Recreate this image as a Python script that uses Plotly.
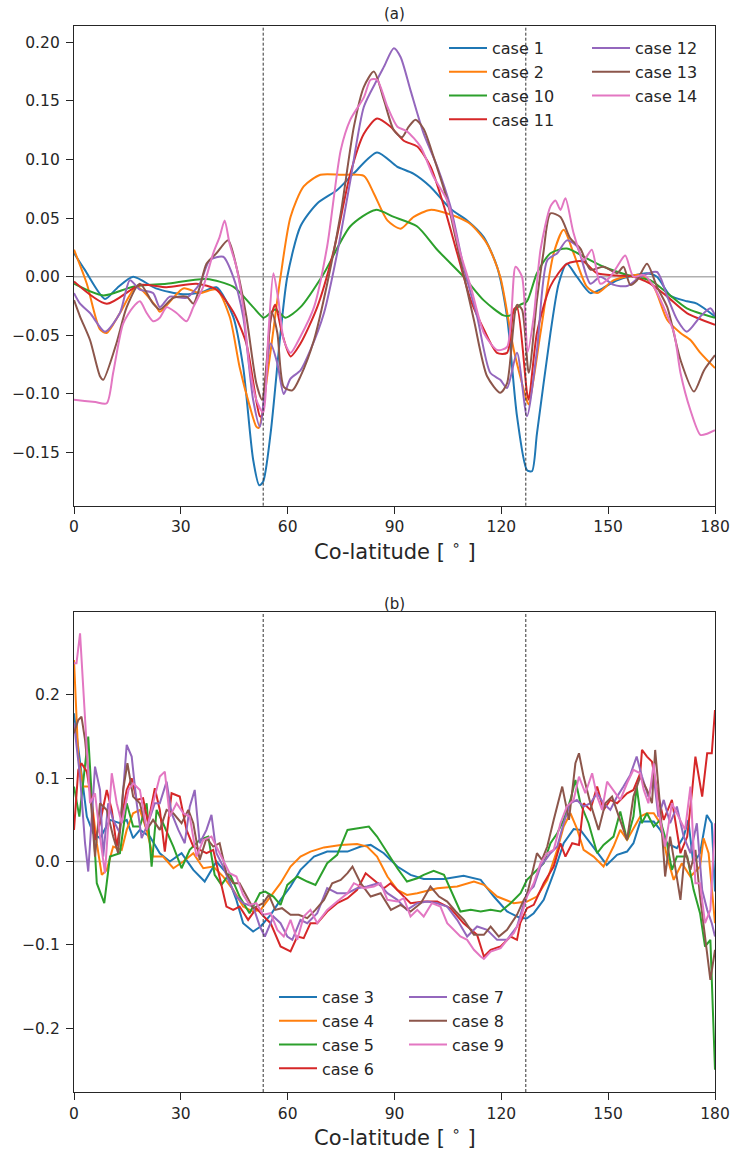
import plotly.graph_objects as go

FONT = "DejaVu Sans"
INK = "#262626"
COLORS = ["#1f77b4", "#ff7f0e", "#2ca02c", "#d62728", "#9467bd", "#8c564b", "#e377c2"]

# ---------------- panel (a) ----------------
a_names = ["case 1", "case 2", "case 10", "case 11", "case 12", "case 13", "case 14"]

a1_x = [0, 3, 8.7, 12, 16.6, 23, 30.6, 36, 40, 44.7, 47.5, 50.3, 52, 53.1, 55.2, 58, 59.9, 63.6, 68.3, 73.9, 78.5, 85.1, 90.7, 95.3, 100, 105.7, 110.4, 115, 118.8, 121.6, 124.4, 127.2, 128.6, 130, 133.8, 136.1, 138.4, 141.2, 145, 147.8, 152.5, 160.9, 163.7, 167.4, 172.1, 174.9, 180]
a1_y = [0.020, 0.006, -0.019, -0.010, 0.000, -0.010, -0.015, -0.013, -0.009, -0.034, -0.077, -0.156, -0.178, -0.175, -0.134, -0.048, 0.000, 0.043, 0.0625, 0.074, 0.088, 0.106, 0.094, 0.088, 0.077, 0.058, 0.048, 0.034, 0.0085, -0.034, -0.119, -0.165, -0.166, -0.134, -0.048, -0.006, 0.011, 0.000, -0.014, -0.011, -0.003, 0.003, 0.000, -0.016, -0.021, -0.023, -0.034]

a2_x = [0, 3.6, 7.3, 9.2, 12.9, 17.6, 23.2, 24.1, 30.7, 35.3, 40, 43.7, 46.5, 49.3, 51.2, 51.9, 54.6, 58, 60.8, 64.5, 69.2, 75, 81.4, 84.2, 88, 91.7, 95.4, 100, 105.7, 111.3, 116, 119.7, 123.5, 127.2, 127.7, 131, 134.7, 137.5, 140.3, 144, 146.9, 151.6, 159.1, 162.8, 166.6, 170.3, 173.1, 175.9, 180]
a2_y = [0.023, -0.006, -0.045, -0.048, -0.031, -0.0085, -0.026, -0.030, -0.010, -0.014, -0.011, -0.034, -0.077, -0.110, -0.128, -0.129, -0.077, 0.000, 0.051, 0.077, 0.087, 0.087, 0.086, 0.071, 0.048, 0.041, 0.051, 0.057, 0.053, 0.045, 0.028, 0.000, -0.0625, -0.106, -0.109, -0.048, 0.020, 0.040, 0.020, -0.0085, -0.014, -0.003, 0.0015, -0.0085, -0.037, -0.048, -0.054, -0.065, -0.078]

a10_x = [0, 8.2, 16.6, 26, 37.2, 44.7, 50.3, 53.3, 56.5, 59.4, 63.6, 70.2, 77.6, 84.7, 89.8, 96.3, 102, 109.4, 115, 120.6, 122.5, 125.3, 127.2, 130, 133.8, 138.4, 144, 148.7, 157.1, 161.8, 166.6, 172.1, 180]
a10_y = [-0.006, -0.016, -0.0085, -0.006, -0.002, -0.0085, -0.026, -0.035, -0.028, -0.035, -0.026, 0.003, 0.043, 0.057, 0.051, 0.043, 0.023, 0.000, -0.020, -0.033, -0.033, -0.024, -0.021, 0.003, 0.020, 0.024, 0.0156, 0.0085, 0.000, -0.003, -0.014, -0.027, -0.035]

a11_x = [0, 9.2, 18.5, 26, 34.4, 40, 44.7, 48.4, 52.2, 52.8, 55.2, 56.5, 58.4, 60.8, 63.6, 68.3, 73, 77.6, 81.4, 85.1, 88.9, 92.6, 96.4, 100.1, 103.9, 107.6, 111.4, 115.1, 118.8, 121.6, 123.5, 124.4, 127.2, 127.7, 130, 133.8, 138.4, 143, 146.8, 152.4, 157.1, 161.8, 166.6, 172.1, 180]
a11_y = [-0.004, -0.023, -0.007, -0.009, -0.006, -0.011, -0.030, -0.057, -0.119, -0.119, -0.037, -0.024, -0.048, -0.068, -0.057, -0.026, 0.023, 0.088, 0.122, 0.135, 0.128, 0.116, 0.111, 0.094, 0.060, 0.020, -0.020, -0.045, -0.065, -0.065, -0.028, -0.026, -0.099, -0.105, -0.048, -0.008, 0.011, 0.013, 0.003, 0.001, 0.000, -0.006, -0.017, -0.031, -0.041]

a12_x = [0, 1.7, 4.5, 8.7, 12.9, 15.7, 18.5, 22.2, 24.1, 26.9, 31.6, 35.3, 38.1, 41.9, 44.7, 47.5, 50.3, 52.2, 55.2, 57.1, 58.9, 60.8, 63.6, 66.4, 70.2, 73.9, 77.6, 81.4, 85.1, 87, 89.8, 91.7, 94.5, 98.2, 102, 105.7, 109.4, 113.2, 116.9, 119.7, 121.6, 124.4, 127.2, 130, 132.9, 135.7, 138.4, 141.2, 145, 147.8, 151.6, 155.3, 159.1, 163.7, 166.6, 169.4, 172.1, 175.9, 178.7, 180]
a12_y = [-0.014, -0.023, -0.031, -0.047, -0.031, -0.003, -0.011, -0.014, -0.026, -0.017, -0.018, -0.006, 0.014, 0.017, 0.000, -0.034, -0.105, -0.128, -0.057, -0.074, -0.100, -0.087, -0.080, -0.0625, -0.031, 0.020, 0.082, 0.145, 0.168, 0.179, 0.195, 0.1875, 0.159, 0.122, 0.094, 0.060, 0.0085, -0.034, -0.082, -0.088, -0.095, -0.065, -0.119, -0.063, 0.014, 0.020, 0.031, 0.026, -0.006, 0.000, -0.007, -0.008, 0.000, 0.004, -0.017, -0.037, -0.047, -0.034, -0.027, -0.033]

a13_x = [0, 1.7, 4.5, 7.3, 8.2, 11.9, 14.8, 18.5, 22.2, 24.1, 27.9, 31.6, 33.5, 35.3, 37.2, 40, 43.3, 45.6, 48.4, 51.2, 52.8, 55.6, 57.1, 58.9, 61.3, 63.6, 67.4, 71.1, 74.9, 78.6, 81.4, 84.2, 87, 89.8, 92.1, 94, 95.9, 98.2, 101, 104.8, 108.5, 112.3, 116, 119.7, 121.6, 124.4, 125.8, 127.7, 130, 131.8, 133.8, 136.6, 139.3, 142.2, 145, 148.7, 152.5, 154.3, 156.2, 158.1, 160.9, 163.7, 166.6, 170.3, 174.1, 176.9, 180]
a13_y = [-0.020, -0.034, -0.054, -0.085, -0.088, -0.057, -0.026, -0.006, -0.023, -0.028, -0.018, -0.017, -0.023, -0.009, 0.011, 0.020, 0.031, 0.0085, -0.034, -0.091, -0.105, -0.031, -0.048, -0.094, -0.097, -0.085, -0.054, -0.006, 0.054, 0.128, 0.162, 0.175, 0.151, 0.125, 0.119, 0.128, 0.134, 0.126, 0.102, 0.065, 0.014, -0.037, -0.085, -0.099, -0.091, -0.024, -0.028, -0.082, -0.020, 0.020, 0.054, 0.051, 0.033, 0.024, 0.006, 0.0085, 0.003, 0.0085, -0.007, -0.003, 0.011, -0.0085, -0.026, -0.071, -0.098, -0.080, -0.067]

a14_x = [0, 3, 6, 9.2, 11, 13.8, 16.6, 18.5, 20.4, 22.2, 24.1, 26, 28.8, 31.6, 33.5, 36.3, 39.1, 40.9, 42.3, 43.7, 45.6, 47.5, 49.3, 51.2, 53.1, 54.6, 56, 57.4, 58.9, 60.8, 63.6, 67.4, 71.1, 74.9, 77.6, 81.4, 83.3, 85.1, 88, 90.8, 93.5, 97.3, 101, 104.8, 108.5, 111.4, 115.1, 118.8, 121.6, 124, 125.8, 127.4, 129.1, 131, 133.8, 135.2, 136.6, 138, 140.3, 143.1, 145.4, 147.8, 150.6, 152.5, 154.8, 157.1, 160, 162.8, 165.6, 168.5, 170.3, 173.1, 175.9, 177.8, 180]
a14_y = [-0.105, -0.106, -0.107, -0.108, -0.082, -0.040, -0.026, -0.021, -0.031, -0.038, -0.035, -0.026, -0.031, -0.038, -0.026, -0.0085, 0.020, 0.034, 0.048, 0.028, 0.0085, -0.026, -0.077, -0.105, -0.116, -0.048, 0.003, -0.020, -0.054, -0.065, -0.051, -0.026, 0.026, 0.108, 0.134, 0.153, 0.168, 0.168, 0.145, 0.128, 0.124, 0.111, 0.085, 0.065, 0.020, -0.0085, -0.048, -0.0625, -0.060, 0.0085, 0.000, -0.064, -0.034, 0.023, 0.060, 0.065, 0.057, 0.067, 0.037, 0.014, 0.023, -0.006, 0.000, 0.0085, 0.018, 0.000, 0.0015, -0.0085, -0.026, -0.048, -0.082, -0.114, -0.135, -0.134, -0.131]

# ---------------- panel (b) ----------------
b_names = ["case 3", "case 4", "case 5", "case 6", "case 7", "case 8", "case 9"]

b3_x = [0, 1.7, 3.6, 5.4, 7.3, 10.1, 12.9, 14.8, 16.6, 18.5, 21.3, 24.1, 26.9, 30.2, 33.5, 36.7, 40, 42.8, 45.6, 47.5, 50.3, 52.4, 55.2, 58, 60.8, 63.6, 67.4, 71.1, 76.8, 80.5, 83.3, 87, 90.8, 94.5, 98.2, 103.9, 109.4, 114.2, 117.9, 121.6, 125.4, 127.2, 129.1, 131.9, 134.7, 137.5, 140.3, 142.2, 145, 147.8, 149.6, 152.5, 155.3, 157.1, 159, 160.9, 162.8, 164.6, 166.5, 169.3, 171.2, 172.5, 173.9, 175.8, 177.7, 179.1, 180]
b3_y = [0.178, 0.118, 0.054, 0.034, 0.028, 0.050, 0.046, 0.050, 0.028, 0.038, 0.030, 0.010, 0.000, 0.010, -0.010, -0.024, 0.000, -0.014, -0.046, -0.074, -0.084, -0.078, -0.064, -0.046, -0.030, -0.010, 0.006, 0.012, 0.012, 0.018, 0.020, 0.010, -0.006, -0.016, -0.021, -0.021, -0.017, -0.022, -0.042, -0.060, -0.068, -0.068, -0.062, -0.046, -0.014, 0.022, 0.039, 0.038, 0.022, 0.006, -0.004, 0.008, 0.012, 0.022, 0.048, 0.048, 0.048, 0.038, 0.022, 0.016, 0.030, 0.050, -0.002, 0.010, 0.056, 0.046, -0.036]

b4_x = [0, 1.2, 2.6, 4.5, 6.4, 7.8, 9.2, 11, 13.4, 14.8, 16.6, 18.5, 20.4, 22.2, 25, 27.9, 30.7, 33.5, 36.3, 39.1, 41.9, 44.7, 47.5, 50.3, 52.4, 55.2, 58, 60.8, 63.6, 66.4, 70.2, 74.9, 79.5, 82.3, 85.1, 88, 90.8, 93.5, 96.4, 102, 107.6, 112.3, 115.1, 118.8, 123.5, 127.2, 130, 132.9, 135.7, 137.5, 139.4, 141.2, 143.1, 145.9, 148.7, 151.5, 153.4, 155.3, 157.1, 159, 160.9, 162.8, 164.6, 166.5, 168.4, 170.7, 173.1, 175.8, 176.8, 178.2, 180]
b4_y = [0.242, 0.126, 0.090, 0.090, 0.022, -0.016, -0.010, 0.018, 0.014, 0.038, 0.058, 0.062, 0.038, 0.006, 0.006, -0.008, 0.000, 0.010, -0.008, -0.006, -0.018, -0.034, -0.054, -0.060, -0.058, -0.042, -0.026, -0.006, 0.006, 0.012, 0.017, 0.020, 0.021, 0.018, 0.006, -0.018, -0.034, -0.040, -0.038, -0.032, -0.030, -0.024, -0.028, -0.042, -0.050, -0.048, -0.042, -0.022, 0.014, 0.042, 0.058, 0.040, 0.014, 0.006, -0.006, 0.018, 0.038, 0.026, 0.040, 0.054, 0.058, 0.058, 0.046, 0.006, -0.022, -0.002, -0.018, -0.006, 0.028, 0.010, -0.074]

b5_x = [0, 1.5, 4, 5.4, 6.4, 8.5, 10.1, 12.9, 14.8, 16.6, 18.5, 20.4, 21.8, 23.2, 25, 27.9, 30.2, 32.5, 35.3, 37.7, 39.5, 41.4, 43.7, 46.5, 49.3, 52.2, 53.7, 56, 58, 59.9, 62.7, 65.5, 67.8, 71.1, 73.9, 76.8, 79.5, 82.8, 85.1, 88, 90.8, 93.5, 96.4, 98.2, 101, 103.9, 105.7, 108.5, 111.4, 114.2, 117, 119.8, 122.6, 125.4, 127.2, 129.1, 131.9, 133.8, 135.7, 137.5, 139.4, 140.8, 142.2, 144.5, 146.9, 148.7, 151.5, 153.4, 155.3, 157.1, 158, 159.4, 160.9, 162.8, 164.6, 166.5, 167.9, 169.3, 172.2, 174, 175.8, 177.2, 178.7, 180]
b5_y = [0.090, 0.054, 0.150, 0.054, -0.026, -0.050, 0.006, 0.010, 0.070, 0.042, 0.042, 0.070, -0.006, 0.062, 0.046, 0.018, -0.008, 0.014, 0.026, 0.030, -0.016, -0.028, -0.014, -0.042, -0.062, -0.038, -0.036, -0.042, -0.052, -0.028, -0.018, -0.024, -0.028, -0.002, 0.008, 0.038, 0.040, 0.042, 0.030, 0.010, -0.008, -0.024, -0.020, -0.016, -0.011, -0.016, -0.034, -0.060, -0.058, -0.060, -0.058, -0.060, -0.050, -0.038, -0.022, -0.014, -0.002, 0.022, 0.034, 0.050, 0.074, 0.098, 0.070, 0.046, 0.010, 0.020, 0.030, 0.060, 0.026, 0.054, 0.090, 0.046, 0.058, 0.042, 0.050, 0.022, -0.010, 0.006, 0.006, -0.034, -0.062, -0.102, -0.094, -0.250]

b6_x = [0, 1.2, 2.1, 3.6, 5, 5.9, 7.3, 9.2, 10.6, 12, 13.4, 14.8, 16.2, 17.6, 19.4, 20.8, 22.7, 24.1, 25.5, 27.4, 29.7, 31.6, 33.5, 35.3, 37.2, 39.1, 40.9, 42.8, 44.7, 46.5, 48.9, 51.2, 53.3, 55.2, 58, 60.8, 62.7, 64.5, 66.4, 68.3, 71.1, 73.9, 76.8, 79.5, 81.9, 84.2, 87, 88.9, 91.7, 94.5, 98.2, 102, 105.7, 109.4, 113.2, 115.1, 117, 119.8, 122.6, 124.4, 125.3, 127.2, 129.1, 131.9, 134.7, 136.6, 138, 139.9, 141.8, 143.1, 145, 146.9, 148.7, 150.6, 152.5, 155.3, 157.1, 159, 159.5, 160.9, 162.3, 163.7, 165.6, 167.9, 170.3, 172.2, 173.6, 174.5, 176.4, 177.8, 179.1, 180]
b6_y = [0.038, 0.110, 0.118, 0.108, 0.070, 0.026, 0.046, 0.086, 0.062, 0.018, 0.054, 0.086, 0.100, 0.074, 0.076, 0.046, 0.088, 0.062, 0.012, 0.082, 0.078, 0.038, 0.018, 0.014, 0.010, 0.014, -0.018, -0.054, -0.058, -0.054, -0.070, -0.056, -0.066, -0.074, -0.102, -0.108, -0.090, -0.092, -0.074, -0.074, -0.060, -0.050, -0.044, -0.034, -0.014, -0.022, -0.032, -0.026, -0.038, -0.050, -0.048, -0.048, -0.056, -0.074, -0.088, -0.114, -0.106, -0.102, -0.090, -0.094, -0.074, -0.056, -0.052, -0.026, -0.006, 0.022, 0.006, 0.022, 0.020, 0.070, 0.062, 0.090, 0.062, 0.074, 0.070, 0.082, 0.086, 0.106, 0.134, 0.126, 0.120, 0.086, 0.050, 0.074, 0.010, 0.030, 0.086, 0.126, 0.078, 0.130, 0.130, 0.182]

b7_x = [0, 1.7, 3.1, 4, 5, 5.9, 7.3, 8.2, 9.6, 11, 12.9, 14.8, 16.2, 17.6, 19, 20.8, 22.7, 24.1, 26, 27.4, 29.3, 31.1, 32.5, 33.9, 35.3, 37.2, 38.6, 40, 41.9, 43.7, 45.6, 47.5, 50.3, 52.2, 53.6, 56, 58, 59.9, 61.3, 63.6, 65.5, 68.3, 71.1, 73.9, 76.8, 79.5, 82.3, 85.5, 88, 90.8, 93.5, 96.4, 99.2, 102, 104.8, 107.6, 110.4, 113.2, 116, 118.8, 121.6, 124.4, 127.2, 129.1, 131, 133.8, 135.7, 137.5, 139.4, 141.2, 143.1, 145, 146.9, 148.7, 150.6, 152.5, 154.3, 156.2, 158, 159.5, 161.3, 162.8, 164.1, 165.6, 167.4, 169.3, 171.2, 173.1, 174.9, 176.4, 177.8, 179.1, 180]
b7_y = [0.166, 0.102, 0.022, -0.012, 0.054, 0.114, 0.086, 0.006, 0.070, 0.050, 0.034, 0.140, 0.126, 0.070, 0.028, 0.046, 0.070, 0.070, 0.096, 0.058, 0.038, 0.022, 0.066, 0.086, 0.022, 0.038, 0.056, 0.010, -0.006, -0.026, -0.042, -0.050, -0.054, -0.078, -0.090, -0.066, -0.074, -0.090, -0.094, -0.070, -0.074, -0.062, -0.032, -0.038, -0.038, -0.032, -0.030, -0.026, -0.038, -0.046, -0.058, -0.050, -0.048, -0.050, -0.054, -0.070, -0.090, -0.078, -0.082, -0.094, -0.094, -0.078, -0.038, -0.030, -0.006, 0.010, 0.018, 0.046, 0.070, 0.074, 0.066, 0.070, 0.082, 0.070, 0.062, 0.078, 0.090, 0.104, 0.126, 0.102, 0.078, 0.102, 0.054, 0.074, 0.046, 0.066, 0.030, 0.010, 0.046, -0.034, -0.058, -0.074, -0.090]

b8_x = [0, 1.2, 2.1, 3.1, 4.5, 5.9, 7.3, 9.2, 11, 12.4, 13.8, 15, 16.6, 18.5, 20.4, 22.2, 24.1, 26, 27.9, 30.2, 32.1, 33.5, 35.3, 37.2, 39.1, 40.9, 42.8, 44.7, 46.5, 48.4, 50.3, 53.1, 54.7, 56.5, 58.4, 60.8, 63.1, 65.5, 67.8, 70.2, 72.5, 74.9, 76.8, 78.2, 80.5, 83.3, 86.1, 89, 91.7, 94.5, 97.4, 100.1, 102.5, 104.8, 107.2, 109.5, 112.3, 115.1, 117, 119.3, 121.6, 124.4, 126.3, 127.2, 128.2, 130, 131.4, 132.9, 134.7, 137.1, 139, 140.8, 141.8, 143.1, 145, 147.3, 149.2, 151.1, 153, 155.3, 157.1, 159, 160.9, 162.3, 163.2, 164.6, 166, 167.4, 168.8, 170.3, 171.6, 173.1, 174.5, 175.8, 177.2, 178.7, 180]
b8_y = [0.154, 0.170, 0.174, 0.146, 0.086, 0.006, 0.070, 0.062, 0.030, 0.010, 0.086, 0.118, 0.078, 0.070, 0.038, 0.050, 0.038, 0.062, 0.058, 0.046, 0.062, 0.046, 0.002, 0.028, 0.018, 0.022, -0.014, -0.026, -0.026, -0.042, -0.056, -0.050, -0.040, -0.058, -0.056, -0.064, -0.064, -0.068, -0.058, -0.046, -0.026, -0.022, -0.014, -0.006, -0.026, -0.042, -0.038, -0.058, -0.052, -0.060, -0.050, -0.030, -0.042, -0.048, -0.060, -0.070, -0.088, -0.088, -0.078, -0.090, -0.082, -0.064, -0.046, -0.040, -0.022, 0.010, 0.002, 0.018, 0.050, 0.090, 0.050, 0.118, 0.130, 0.102, 0.070, 0.038, 0.070, 0.078, 0.054, 0.026, 0.078, 0.102, 0.086, 0.070, 0.134, 0.066, -0.018, 0.030, -0.006, -0.046, 0.014, -0.010, 0.014, -0.042, -0.090, -0.142, -0.106]

b9_x = [0, 0.7, 1.7, 2.6, 3.6, 4.5, 5.9, 7.3, 8.7, 10.6, 12, 13.4, 15.3, 16.6, 18.5, 20.4, 22.2, 24.1, 25.5, 26.9, 28.8, 30.7, 32.5, 34.4, 36.3, 38.6, 40.9, 43.7, 45.6, 47.5, 49.3, 51.2, 53.1, 55.2, 57.1, 58.9, 60.8, 62.7, 64.5, 66.4, 68.3, 71.1, 73.9, 76.8, 78.6, 81.4, 84.2, 86.1, 88, 90.8, 92.6, 94.5, 96.4, 98.2, 100.5, 102.9, 104.8, 106.7, 108.5, 110.4, 112.3, 114.2, 115.1, 117, 119.8, 121.6, 123.5, 125.3, 127.2, 129.1, 131, 132.9, 134.7, 136.6, 138.4, 140.3, 141.8, 143.6, 145.5, 146.9, 148.3, 149.7, 151.5, 153.4, 155.3, 157.1, 159, 160, 161.3, 162.8, 164.1, 166, 167.9, 169.8, 171.6, 173.1, 174.5, 175.8, 177.2, 178.7, 180]
b9_y = [0.238, 0.238, 0.274, 0.206, 0.134, 0.070, 0.082, 0.030, -0.014, 0.106, 0.070, 0.046, 0.086, 0.094, 0.086, 0.038, 0.070, 0.102, 0.108, 0.054, 0.070, 0.058, 0.054, 0.006, 0.026, 0.030, 0.010, -0.014, -0.018, -0.040, -0.052, -0.050, -0.064, -0.062, -0.082, -0.090, -0.070, -0.094, -0.066, -0.058, -0.074, -0.058, -0.048, -0.038, -0.026, -0.032, -0.030, -0.026, -0.046, -0.048, -0.044, -0.066, -0.058, -0.066, -0.050, -0.054, -0.074, -0.082, -0.090, -0.094, -0.106, -0.114, -0.117, -0.108, -0.104, -0.094, -0.086, -0.070, -0.042, -0.026, -0.002, 0.010, 0.014, 0.046, 0.066, 0.074, 0.102, 0.082, 0.106, 0.078, 0.062, 0.096, 0.086, 0.074, 0.094, 0.110, 0.106, 0.086, 0.070, 0.118, 0.062, 0.018, 0.070, 0.054, 0.038, 0.090, -0.026, -0.026, -0.074, -0.058, 0.046]

a_x_ticks = [0, 30, 60, 90, 120, 150, 180]
a_y_ticks = [-0.15, -0.10, -0.05, 0.00, 0.05, 0.10, 0.15, 0.20]
b_y_ticks = [-0.2, -0.1, 0.0, 0.1, 0.2]
a_y_range = [-0.1954, 0.2139]
b_y_range = [-0.2767, 0.300]
boundaries = [53.13, 126.87]

a_series = [(a1_x, a1_y), (a2_x, a2_y), (a10_x, a10_y), (a11_x, a11_y),
            (a12_x, a12_y), (a13_x, a13_y), (a14_x, a14_y)]
b_series = [(b3_x, b3_y), (b4_x, b4_y), (b5_x, b5_y), (b6_x, b6_y),
            (b7_x, b7_y), (b8_x, b8_y), (b9_x, b9_y)]

fig = go.Figure()

for i, (name, (xs, ys)) in enumerate(zip(a_names, a_series)):
    fig.add_trace(go.Scatter(
        x=xs, y=ys, mode="lines", name=name,
        line=dict(color=COLORS[i], width=2, shape="spline", smoothing=0.7),
        xaxis="x", yaxis="y",
        legend="legend" if i < 4 else "legend2",
    ))

for i, (name, (xs, ys)) in enumerate(zip(b_names, b_series)):
    fig.add_trace(go.Scatter(
        x=xs, y=ys, mode="lines", name=name,
        line=dict(color=COLORS[i], width=2),
        xaxis="x2", yaxis="y2",
        legend="legend3" if i < 4 else "legend4",
    ))

# page = figure (body margin removed below); plot area x 74..715, y 26..1092
W, H = 732, 1151
L, R, T, B = 74, W - 715, 26, H - 1092
PW, PH = W - L - R, H - T - B


def px(xp):
    return (xp - L) / PW


def py(yp):
    return (T + PH - yp) / PH


axis_common = dict(
    showline=True, mirror=True, linecolor=INK, linewidth=1.25,
    ticks="outside", ticklen=7, tickwidth=1.25, tickcolor=INK,
    showgrid=False, zeroline=False,
    tickfont=dict(family=FONT, size=15.5, color=INK),
)

top_dom = [py(505.7), 1.0]
bot_dom = [0.0, py(611.7)]

fig.update_layout(
    width=W, height=H,
    margin=dict(l=L, r=R, t=T, b=B, autoexpand=False),
    paper_bgcolor="white", plot_bgcolor="white",
    font=dict(family=FONT, color=INK),
    xaxis=dict(domain=[0, 1], range=[0, 180], tickvals=a_x_ticks, anchor="y", **axis_common),
    yaxis=dict(domain=top_dom, range=a_y_range, tickvals=a_y_ticks, tickformat=".2f", anchor="x",
               ticklabelstandoff=3, **axis_common),
    xaxis2=dict(domain=[0, 1], range=[0, 180], tickvals=a_x_ticks, anchor="y2", **axis_common),
    yaxis2=dict(domain=bot_dom, range=b_y_range, tickvals=b_y_ticks, tickformat=".1f", anchor="x2",
                ticklabelstandoff=3, **axis_common),
    showlegend=True,
)

leg_common = dict(bgcolor="rgba(0,0,0,0)", borderwidth=0, xanchor="left", yanchor="top",
                  itemwidth=38, font=dict(family=FONT, size=16, color=INK), tracegroupgap=0)
fig.update_layout(
    legend=dict(x=px(444), y=py(31), **leg_common),
    legend2=dict(x=px(587), y=py(31), **leg_common),
    legend3=dict(x=px(274), y=py(980), **leg_common),
    legend4=dict(x=px(404), y=py(980), **leg_common),
)

shapes = []
for xr, yr in (("x", "y"), ("x2", "y2")):
    shapes.append(dict(type="line", xref=xr + " domain", yref=yr, x0=0, x1=1, y0=0, y1=0,
                       line=dict(color="#b0b0b0", width=1.5), layer="below"))
    for bx in boundaries:
        shapes.append(dict(type="line", xref=xr, yref=yr + " domain", x0=bx, x1=bx, y0=0, y1=1,
                           line=dict(color="#333333", width=1, dash="3px,2px"), layer="above"))
fig.update_layout(shapes=shapes)

annotations = [
    dict(text="(a)", x=0.5, y=py(14), xref="paper", yref="paper", showarrow=False,
         xanchor="center", yanchor="middle", font=dict(family=FONT, size=15, color=INK)),
    dict(text="(b)", x=0.5, y=py(603.7), xref="paper", yref="paper", showarrow=False,
         xanchor="center", yanchor="middle", font=dict(family=FONT, size=15, color=INK)),
    dict(text="Co-latitude [ <sup>∘</sup> ]", x=0.5, y=py(550), xref="paper", yref="paper",
         showarrow=False, xanchor="center", yanchor="middle", font=dict(family=FONT, size=21, color=INK)),
    dict(text="Co-latitude [ <sup>∘</sup> ]", x=0.5, y=py(1135.5), xref="paper", yref="paper",
         showarrow=False, xanchor="center", yanchor="middle", font=dict(family=FONT, size=21, color=INK)),
]
fig.update_layout(annotations=annotations)

# remove the browser's default 8px body margin so the figure fills the window exactly
fig.write_html("out.html", config={"displayModeBar": False},
               post_script="document.body.style.margin='0px';document.body.style.overflow='hidden';")
